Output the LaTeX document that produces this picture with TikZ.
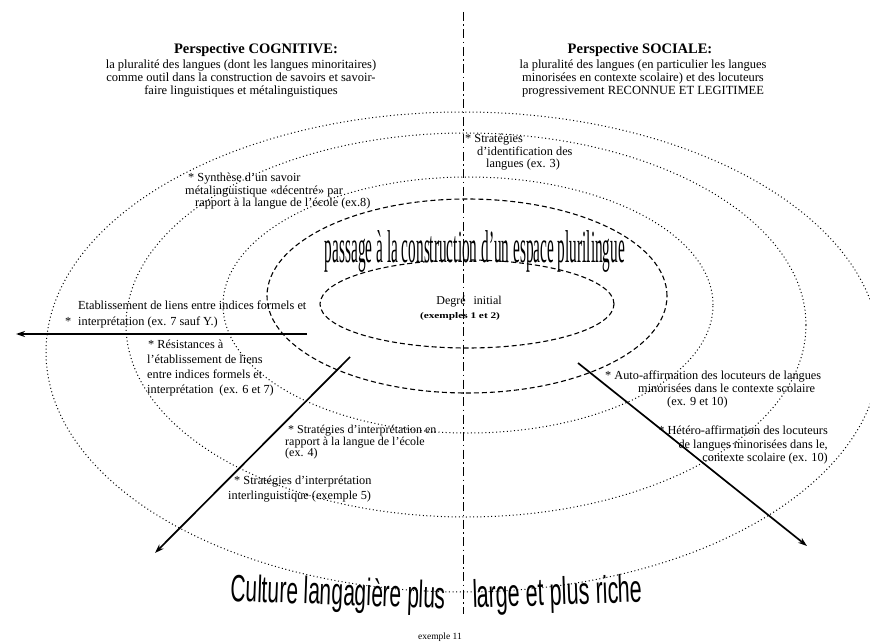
\documentclass[tikz,border=0pt]{standalone}
\usepackage{fontspec}
\setmainfont{Liberation Serif}
\newfontfamily\wordart{Liberation Sans}
\usetikzlibrary{arrows.meta}

\begin{document}
\begin{tikzpicture}[
  x=1pt, y=-1pt,
  dashring/.style={draw, line width=1.1pt, dash pattern=on 5pt off 3pt},
  dotring/.style={draw, line width=1pt, dash pattern=on 1pt off 2.6pt},
  midline/.style={draw, line width=1pt,
    dash pattern=on 9pt off 3.5pt on 1.5pt off 3.5pt},
  arr/.style={-{Stealth[length=9pt, width=6pt]}, line width=1.7pt},
  persp/.style={font=\fontsize{14.5}{16}\selectfont\bfseries, inner sep=0pt},
  head/.style={font=\fontsize{12.5}{13}\selectfont, align=center,
    inner sep=0pt, anchor=north},
  note/.style={font=\fontsize{12.3}{12.5}\selectfont, align=left,
    inner sep=0pt, anchor=north west}
]
  \useasboundingbox (0,0) rectangle (870,644);
  \clip (0,0) rectangle (870,644);

  % rings
  \draw[dotring] (463,352) ellipse [x radius=417pt, y radius=240pt];
  \draw[dotring] (466,325) ellipse [x radius=340pt, y radius=192pt];
  \draw[dotring] (468,305) ellipse [x radius=245pt, y radius=128pt];
  \draw[dashring] (467,296) ellipse [x radius=200pt, y radius=97pt];
  \draw[dashring] (467,304) ellipse [x radius=147pt, y radius=44pt];

  % vertical divide
  \coordinate (axisTop) at (463,12);
  \coordinate (axisBot) at (463,614);
  \draw[midline] (axisTop) -- (axisBot);

  % arrows
  \coordinate (etabStart) at (307,334);
  \coordinate (etabEnd) at (16,334);
  \coordinate (cogStart) at (350,357);
  \coordinate (cogEnd) at (155,553);
  \coordinate (socStart) at (578,363);
  \coordinate (socEnd) at (807,546);
  \draw[arr] (etabStart) -- (etabEnd);
  \draw[arr] (cogStart) -- (cogEnd);
  \draw[arr] (socStart) -- (socEnd);

  % headings
  \node[persp] (cogTitle) at (256,50) {Perspective COGNITIVE:};
  \node[head] (cogText) at (241,60)
    {la pluralité des langues (dont les langues minoritaires)\\
     comme outil dans la construction de savoirs et savoir-\\
     faire linguistiques et métalinguistiques};
  \node[persp] (socTitle) at (640,50) {Perspective SOCIALE:};
  \node[head] (socText) at (643,60)
    {la pluralité des langues (en particulier les langues\\
     minorisées en contexte scolaire) et des locuteurs\\
     progressivement RECONNUE ET LEGITIMEE};

  % centre
  \node[inner sep=0pt, anchor=base] (passage) at (475,262)
    {\resizebox{300pt}{32pt}{passage à la construction d'un espace plurilingue}};
  \node[font=\fontsize{12}{12}\selectfont, inner sep=0pt] (degre) at (469,302)
    {Degré\hspace{5pt} initial};
  \node[inner sep=0pt] (exInit) at (460,316)
    {\resizebox{80pt}{6pt}{\bfseries (exemples 1 et 2)}};

  % cognitive side
  \node[note] (synth) at (185,173)
    {\hspace*{3pt}* Synthèse d'un savoir\\
     métalinguistique «décentré» par\\
     \hspace*{10pt}rapport à la langue de l'école (ex.8)};
  \node[note, font=\fontsize{12.3}{16}\selectfont] (etab) at (78,301)
    {Etablissement de liens entre indices formels et\\
     \llap{*\hspace{7pt}}interprétation (ex. 7 sauf Y.)};
  \node[note, font=\fontsize{12.3}{15}\selectfont] (resist) at (147,340)
    {\hspace*{1pt}* Résistances à\\
     l'établissement de liens\\
     entre indices formels et\\
     interprétation\hspace{6pt}(ex. 6 et 7)};
  \node[note, font=\fontsize{12}{11.6}\selectfont] (ecole) at (285,425)
    {\hspace*{3pt}* Stratégies d'interprétation en\\
     rapport à la langue de l'école\\
     (ex. 4)};
  \node[note, font=\fontsize{12.3}{15}\selectfont] (interl) at (228,476)
    {\hspace*{6pt}* Stratégies d'interprétation\\
     interlinguistique (exemple 5)};

  % social side
  \node[note] (ident) at (465,134)
    {* Stratégies\\
     \hspace*{12pt}d'identification des\\
     \hspace*{21pt}langues (ex. 3)};
  \node[note, font=\fontsize{12.3}{13}\selectfont] (auto) at (605,371)
    {* Auto-affirmation des locuteurs de langues\\
     \hspace*{33pt}minorisées dans le contexte scolaire\\
     \hspace*{62pt}(ex. 9 et 10)};
  \node[note, font=\fontsize{12.3}{13.5}\selectfont, align=right,
    anchor=north east] (hetero) at (828,426)
    {* Hétéro-affirmation des locuteurs\\
     de langues minorisées dans le,\\
     contexte scolaire (ex. 10)};

  % bottom
  \node[inner sep=0pt, anchor=base, rotate=-2] (cultLeft) at (338,605)
    {\resizebox{215pt}{28pt}{\wordart Culture langagière plus}};
  \node[inner sep=0pt, anchor=base, rotate=2] (cultRight) at (558,605)
    {\resizebox{170pt}{28pt}{\wordart large et plus riche}};
  \node[font=\fontsize{9.5}{10}\selectfont, inner sep=0pt] (ex11) at (440,637)
    {exemple 11};
\end{tikzpicture}
\end{document}
